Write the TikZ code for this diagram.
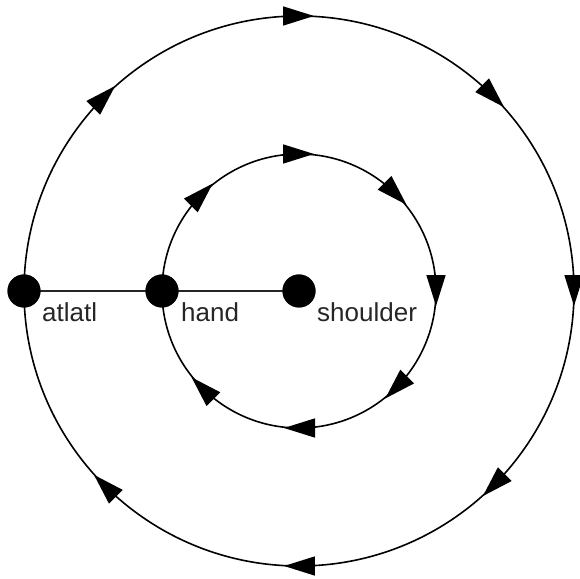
\documentclass[tikz,border=0pt]{standalone}
\usepackage{fontspec}
\setmainfont{Liberation Sans}
\usetikzlibrary{arrows.meta,decorations.markings}
\tikzset{
  orbit/.style={draw=black, line width=1.6pt,
    postaction={decorate},
    decoration={markings,
      mark=between positions 0.125 and 0.875 step 0.125 with
        {\arrow[xshift=15pt]{Triangle[length=31pt,width=19pt]}}}},
  joint/.style={circle, fill=black, minimum size=33pt, inner sep=0pt},
  rod/.style={draw=black!85, line width=1.6pt},
  lbl/.style={anchor=base west, inner sep=0pt, text=black!85,
    font=\fontsize{26}{30}\selectfont}
}
\begin{document}
\begin{tikzpicture}[x=1pt,y=1pt]
\useasboundingbox (0,0) rectangle (580,578);
\coordinate (c) at (299,287);
% outer circle, clockwise from the left
\path[orbit] (c) ++(180:275) arc[start angle=180, end angle=-180, radius=275];
% inner circle
\path[orbit] (c) ++(180:137) arc[start angle=180, end angle=-180, radius=137];
% joints
\node[joint] (atlatl) at (24,287) {};
\node[joint] (hand) at (162,287) {};
\node[joint] (shoulder) at (c) {};
\draw[rod] (atlatl.center) -- (hand.center) -- (shoulder.center);
\node[joint] at (atlatl.center) {};
\node[joint] at (hand.center) {};
\node[joint] at (shoulder.center) {};
% labels
\node[lbl] (tatlatl) at ([shift={(18,-31)}]atlatl.center) {atlatl};
\node[lbl] (thand) at ([shift={(19,-31)}]hand.center) {hand};
\node[lbl] (tshoulder) at ([shift={(18,-31)}]shoulder.center) {shoulder};
\end{tikzpicture}
\end{document}
